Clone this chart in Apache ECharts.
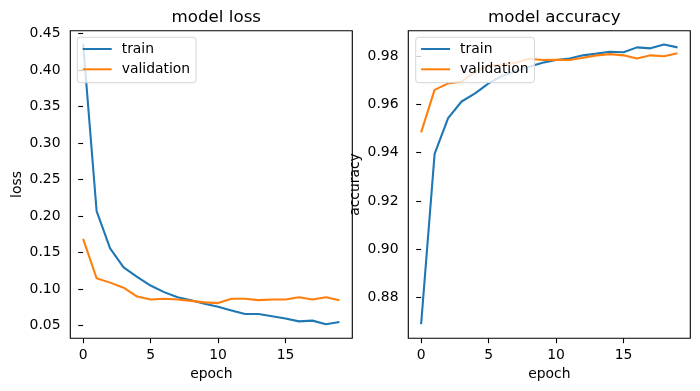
<!DOCTYPE html>
<html>
<head>
<meta charset="utf-8">
<script src="https://cdn.jsdelivr.net/npm/echarts@6/dist/echarts.min.js"></script>
<style>html,body{margin:0;padding:0;background:#fff}#c{width:700px;height:391px}</style>
</head>
<body>
<div id="c"></div>
<script>
const epochs = [0,1,2,3,4,5,6,7,8,9,10,11,12,13,14,15,16,17,18,19];
const trainLoss = [0.436,0.207,0.156,0.130,0.117,0.105,0.096,0.089,0.085,0.080,0.076,0.071,0.066,0.066,0.063,0.060,0.056,0.057,0.052,0.055];
const valLoss = [0.169,0.115,0.109,0.102,0.090,0.086,0.087,0.086,0.084,0.082,0.081,0.087,0.087,0.085,0.086,0.086,0.089,0.086,0.089,0.085];
const trainAcc = [0.869,0.9395,0.9543,0.9612,0.9646,0.9687,0.9718,0.9738,0.9756,0.9772,0.9784,0.9790,0.9803,0.9810,0.9818,0.9816,0.9836,0.9832,0.9848,0.9836];
const valAcc = [0.9484,0.9660,0.9687,0.9694,0.9735,0.9762,0.9762,0.9772,0.9789,0.9784,0.9785,0.9784,0.9793,0.9803,0.9808,0.9803,0.9790,0.9803,0.9799,0.9812];
const epochTicks = [0,5,10,15];
const lossTicks = [0.05,0.10,0.15,0.20,0.25,0.30,0.35,0.40,0.45];
const accTicks = [0.88,0.90,0.92,0.94,0.96,0.98];

const FONT = 'DejaVu Sans';
const FS = 13.9;
const BLUE = '#1f77b4', ORANGE = '#ff7f0e';

function pairs(xs, ys){ return xs.map((x,i)=>[x, ys[i]]); }

function xAx(gi){
  return {
    type:'value', gridIndex:gi, min:-0.95, max:19.95,
    name:'epoch', nameLocation:'middle', nameGap:29,
    nameTextStyle:{fontFamily:FONT,fontSize:FS,color:'#000'},
    axisLine:{show:false}, splitLine:{show:false},
    axisTick:{show:true, length:4.9, lineStyle:{color:'#000',width:1.1}, customValues:epochTicks},
    axisLabel:{show:true, margin:9.8, fontFamily:FONT, fontSize:FS, color:'#000', customValues:epochTicks}
  };
}
function yAx(gi, min, max, ticks, name){
  return {
    type:'value', gridIndex:gi, min:min, max:max,
    name:name, nameLocation:'middle', nameGap:46, nameRotate:90,
    nameTextStyle:{fontFamily:FONT,fontSize:FS,color:'#000'},
    axisLine:{show:false}, splitLine:{show:false},
    axisTick:{show:true, length:4.9, lineStyle:{color:'#000',width:1.1}, customValues:ticks},
    axisLabel:{show:true, margin:9.8, fontFamily:FONT, fontSize:FS, color:'#000', customValues:ticks,
      formatter:v=>v.toFixed(2)}
  };
}
function leg(left){
  return {
    orient:'vertical', left:left, top:37.3, data:['train','validation'],
    icon:'rect', itemWidth:29, itemHeight:2, itemGap:6.3,
    selectedMode:false,
    backgroundColor:'rgba(255,255,255,0.8)', borderColor:'#d6d6d6', borderWidth:1, borderRadius:3,
    padding:[4.7,6,6.4,5.4],
    textStyle:{fontFamily:FONT,fontSize:FS,color:'#000',padding:[0,0,0,5]}
  };
}
function line(name, xi, data, color){
  return {type:'line', name:name, xAxisIndex:xi, yAxisIndex:xi, data:data, showSymbol:false,
    lineStyle:{color:color,width:2.1}, itemStyle:{color:color}, animation:false, z:2};
}

const chart = echarts.init(document.getElementById('c'), null, {renderer:'canvas'});
chart.setOption({
  animation:false,
  backgroundColor:'#fff',
  title:[
    {text:'model loss', left:211.3, top:4, textAlign:'center', textStyle:{fontFamily:FONT,fontSize:16.7,fontWeight:'normal',color:'#000'}},
    {text:'model accuracy', left:549.3, top:4, textAlign:'center', textStyle:{fontFamily:FONT,fontSize:16.7,fontWeight:'normal',color:'#000'}}
  ],
  grid:[
    {left:70.3, top:30.7, width:282, height:307.6, show:true, borderColor:'#000', borderWidth:1.1, backgroundColor:'transparent'},
    {left:408.3, top:30.7, width:282, height:307.6, show:true, borderColor:'#000', borderWidth:1.1, backgroundColor:'transparent'}
  ],
  xAxis:[xAx(0), xAx(1)],
  yAxis:[yAx(0,0.0328,0.4538,lossTicks,'loss'), yAx(1,0.8632,0.9905,accTicks,'accuracy')],
  legend:[leg(77.3), leg(415.7)],
  series:[
    line('train',0,pairs(epochs,trainLoss),BLUE),
    line('validation',0,pairs(epochs,valLoss),ORANGE),
    line('train',1,pairs(epochs,trainAcc),BLUE),
    line('validation',1,pairs(epochs,valAcc),ORANGE)
  ]
});
</script>
</body>
</html>
